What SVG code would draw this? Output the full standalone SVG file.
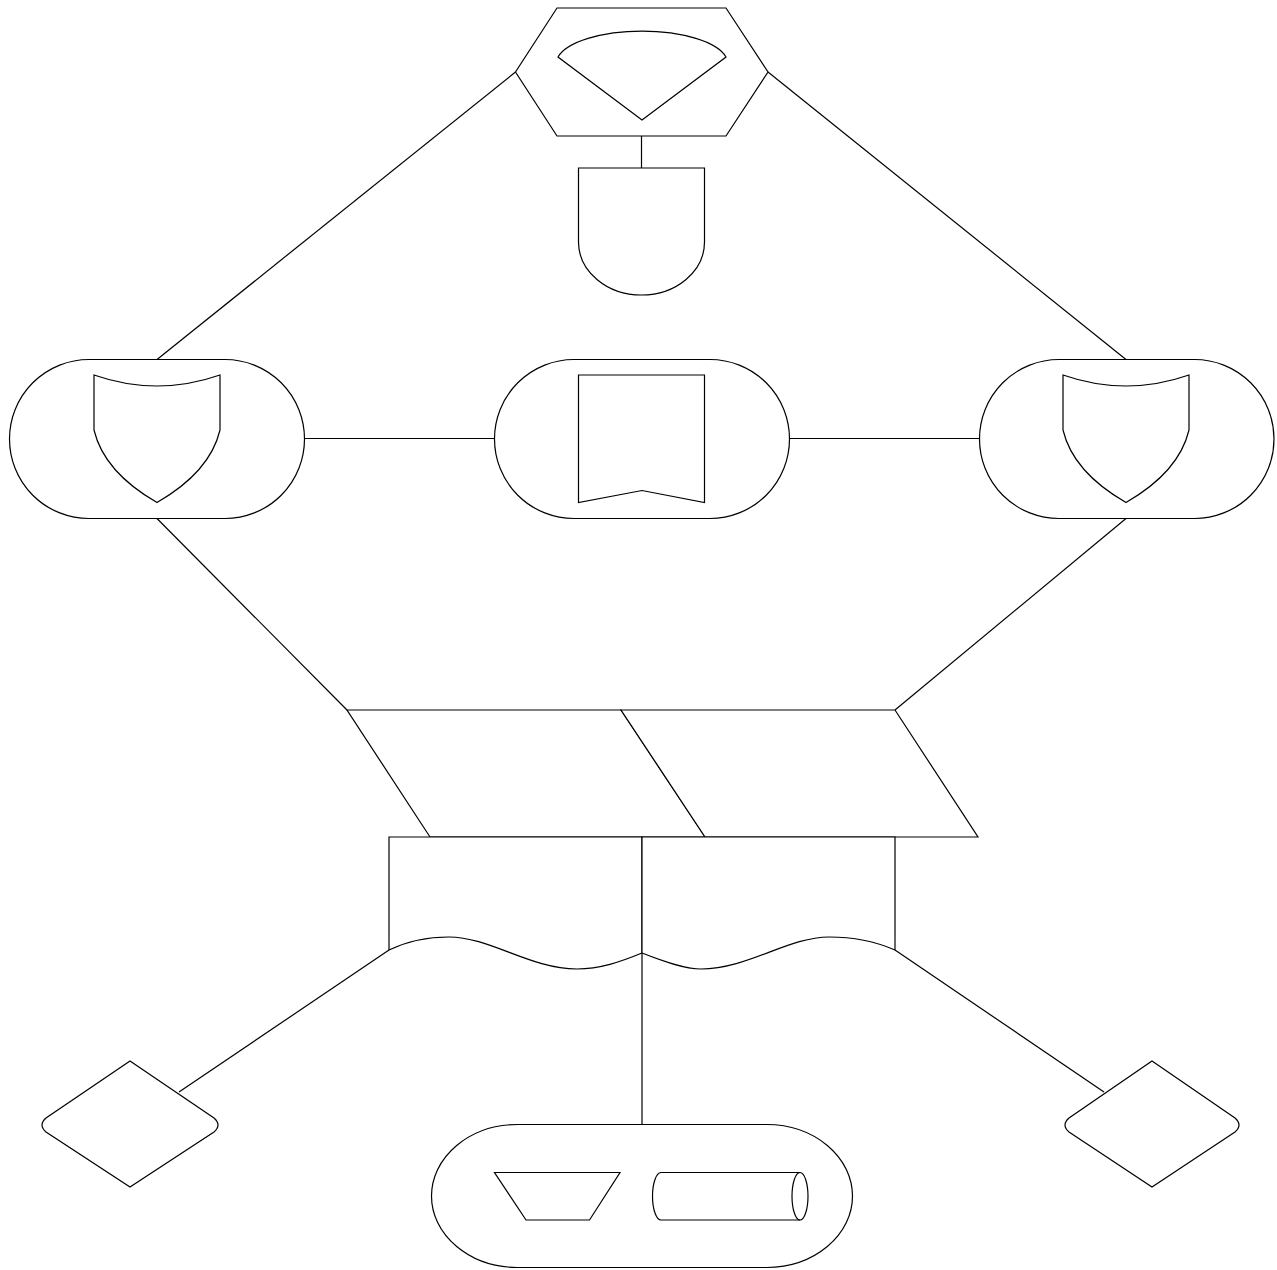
<svg xmlns="http://www.w3.org/2000/svg" width="1277" height="1270" viewBox="0 0 1277 1270">
<style>
.s{fill:#fff;stroke:#000;stroke-width:1.2;stroke-linejoin:miter}
.c{fill:none;stroke:#000;stroke-width:1.2}
</style>
<rect width="1277" height="1270" fill="#fff"/>
<g id="connectors">
<line class="c" x1="515.5" y1="72" x2="157" y2="359.5"/>
<line class="c" x1="768" y1="72" x2="1126" y2="359.5"/>
<line class="c" x1="641.5" y1="136" x2="641.5" y2="168"/>
<line class="c" x1="304.5" y1="438.5" x2="494.5" y2="438.5"/>
<line class="c" x1="789.5" y1="438.5" x2="979.5" y2="438.5"/>
<line class="c" x1="157" y1="518.5" x2="347" y2="710"/>
<line class="c" x1="1126" y1="518.5" x2="895" y2="710"/>
<line class="c" x1="389" y1="950" x2="179" y2="1092"/>
<line class="c" x1="895" y1="950" x2="1104" y2="1092"/>
<line class="c" x1="642" y1="953" x2="642" y2="1124.5"/>
</g>
<g id="hexagon">
<path class="s" d="M557,8 H726 L768,72 L726,136 H557 L515.5,72 Z"/>
<path class="s" d="M558,57 A86 33 0 0 1 726 57 L642,120 Z"/>
</g>
<g id="delay">
<path class="s" d="M578.5,168 H704.5 V242 A63 53 0 0 1 578.5 242 Z"/>
</g>
<g id="pill-left">
<rect class="s" x="9.5" y="359.5" width="295" height="159" rx="79.5" ry="79.5"/>
<path class="s" d="M94,375 Q157,397 220,375 V430 Q210,472 157,502.5 Q104,472 94,430 Z"/>
</g>
<g id="pill-center">
<rect class="s" x="494.5" y="359.5" width="295" height="159" rx="79.5" ry="79.5"/>
<path class="s" d="M578.5,375 H704.5 V502.5 L642,490.5 L578.5,502.5 Z"/>
</g>
<g id="pill-right">
<rect class="s" x="979.5" y="359.5" width="294.5" height="159" rx="79.5" ry="79.5"/>
<path class="s" d="M1063,375 Q1126,397 1189,375 V430 Q1179,472 1126,502.5 Q1073,472 1063,430 Z"/>
</g>
<g id="para-left">
<path class="s" d="M347,710 H621 L705,837 H430 Z"/>
</g>
<g id="para-right">
<path class="s" d="M621,710 H895 L978,837 H705 Z"/>
</g>
<g id="doc-left">
<path class="s" d="M389,837 H642 V953 C620,962 600,969 577,969 C530,969 490,937 449,937 C430,937 410,940 389,950 Z"/>
</g>
<g id="doc-right">
<path class="s" d="M642,837 H895 V950 C872,940 850,937 829,937 C788,937 748,969 701,969 C685,969 665,962 642,953 Z"/>
</g>
<g id="diamond-left">
<path class="s" d="M130,1061 L214,1118 Q222,1125 214,1132 L130,1187 L46,1132 Q38,1125 46,1118 Z"/>
</g>
<g id="diamond-right">
<path class="s" d="M1152,1061 L1235,1118 Q1243,1125 1235,1132 L1152,1187 L1069,1132 Q1061,1125 1069,1118 Z"/>
</g>
<g id="pill-bottom">
<rect class="s" x="431.5" y="1124.5" width="421" height="143" rx="86" ry="71.5"/>
<path class="s" d="M494.5,1172.5 H620 L589.5,1220 H526 Z"/>
<path class="s" d="M661,1172.5 H800 A8 23.75 0 0 1 800 1220 H661 A8.5 23.75 0 0 1 661 1172.5 Z"/>
<path class="c" d="M800,1172.5 A8 23.75 0 0 0 800 1220"/>
</g>
</svg>
